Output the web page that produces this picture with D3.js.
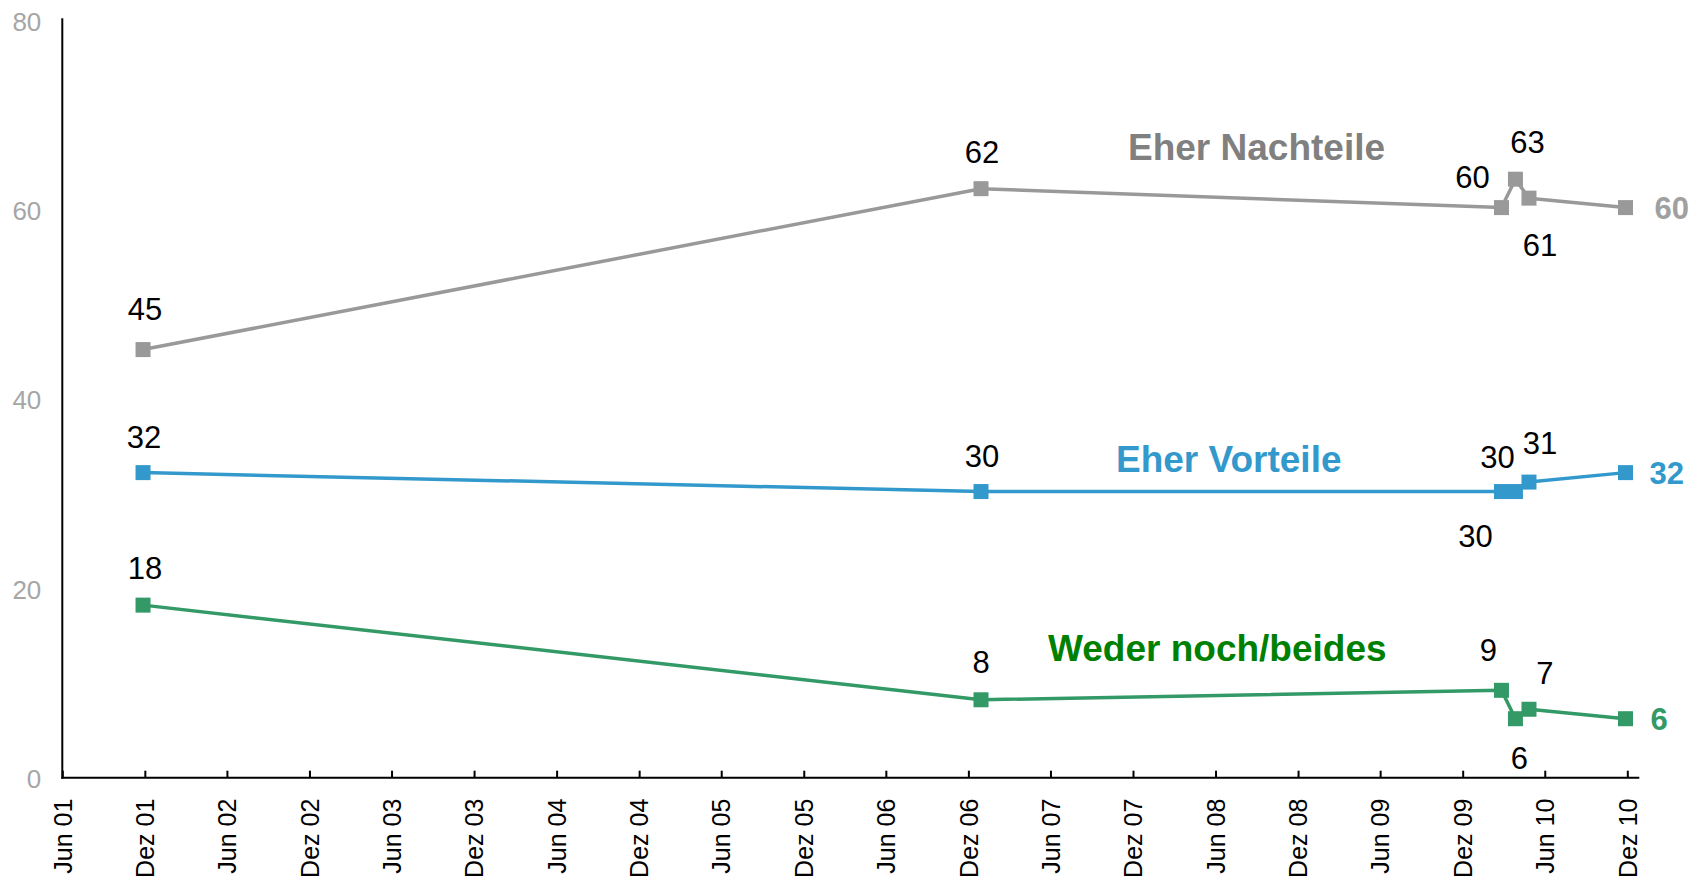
<!DOCTYPE html>
<html>
<head>
<meta charset="utf-8">
<script src="https://cdn.jsdelivr.net/npm/d3@7"></script>
<style>
  body { margin: 0; background: #fff; }
  svg { display: block; }
  text { font-family: "Liberation Sans", Arial, Helvetica, sans-serif; }
</style>
</head>
<body>
<svg id="chart" width="1704" height="878"></svg>
<script>
// ---------------- data ----------------
const surveyDates = ["2001-11-27", "2006-12-29", "2010-02-25", "2010-03-28", "2010-04-27", "2010-11-27"];
const seriesNames = ["Eher Nachteile", "Eher Vorteile", "Weder noch/beides"];
const nachteileValues = [45, 62, 60, 63, 61, 60];
const vorteileValues  = [32, 30, 30, 30, 31, 32];
const wederValues     = [18, 8, 9, 6, 7, 6];
const yTickValues = [0, 20, 40, 60, 80];
const xTickLabels = ["Jun 01", "Dez 01", "Jun 02", "Dez 02", "Jun 03", "Dez 03", "Jun 04", "Dez 04",
                     "Jun 05", "Dez 05", "Jun 06", "Dez 06", "Jun 07", "Dez 07", "Jun 08", "Dez 08",
                     "Jun 09", "Dez 09", "Jun 10", "Dez 10"];

// ---------------- layout / style ----------------
const colors = ["#999999", "#3399cc", "#339966"];
const nameColors = ["#808080", "#3399cc", "#008000"];
const endColors = ["#a0a0a0", "#3399cc", "#339966"];
const endOffsets = [29, 24, 25];
// data label offsets (label centre relative to marker centre), last point uses end label
const labelOffsets = [
  [[2, -41], [1, -37], [-29, -31], [12, -37], [11, 47]],
  [[1, -36], [1, -36], [-4, -35], [-40, 44], [11, -39]],
  [[2, -37], [0, -38], [-13, -40], [4, 39], [16, -36]]
];
const nameLabelPos = [[1128, 65], [1116, 32.1], [1048, 12.1]]; // x px, y in data units (baseline)

const parse = d3.timeParse("%Y-%m-%d");
const svg = d3.select("#chart");

const x = d3.scaleTime()
  .domain([parse("2001-06-01"), parse("2010-12-01")])
  .range([62.3, 1627.3]);
const y = d3.scaleLinear().domain([0, 80]).range([775.5, 18.3]);

const axisY = y(0) + 2.2;
const xTickDates = xTickLabels.map((_, i) => d3.timeMonth.offset(parse("2001-06-01"), 6 * i));

// x axis
const gx = svg.append("g").attr("transform", `translate(0,${axisY})`)
  .call(d3.axisBottom(x).tickValues(xTickDates).tickSize(-7).tickSizeOuter(0)
        .tickFormat((d, i) => xTickLabels[i]));
gx.select(".domain").remove();
gx.selectAll(".tick line").attr("stroke", "#000").attr("stroke-width", 2);
gx.selectAll(".tick text")
  .attr("transform", "rotate(-90)")
  .attr("text-anchor", "end")
  .attr("x", -21).attr("y", 0).attr("dy", "0.35em")
  .attr("fill", "#000")
  .style("font-size", "25px")
  .style("font-family", "'Liberation Sans', Arial, sans-serif");
svg.append("line")
  .attr("x1", x.range()[0] - 1).attr("x2", x.range()[1] + 12)
  .attr("y1", axisY).attr("y2", axisY)
  .attr("stroke", "#000").attr("stroke-width", 2);

// y axis
const gy = svg.append("g").attr("transform", `translate(${x.range()[0]},0)`)
  .call(d3.axisLeft(y).tickValues(yTickValues).tickSize(0).tickPadding(21));
gy.select(".domain").remove();
gy.selectAll(".tick text")
  .attr("fill", "#a6a6a6")
  .attr("y", 2.5)
  .attr("dy", "0.36em")
  .style("font-size", "26px")
  .style("font-family", "'Liberation Sans', Arial, sans-serif");
svg.append("line")
  .attr("x1", x.range()[0]).attr("x2", x.range()[0])
  .attr("y1", axisY + 1).attr("y2", y(80))
  .attr("stroke", "#000").attr("stroke-width", 2);

// series
const allValues = [nachteileValues, vorteileValues, wederValues];
const dates = surveyDates.map(parse);
const line = d3.line().x(d => x(d.date)).y(d => y(d.value));

allValues.forEach((vals, si) => {
  const pts = vals.map((v, i) => ({ date: dates[i], value: v }));
  const g = svg.append("g");
  g.append("path").datum(pts)
    .attr("d", line)
    .attr("fill", "none")
    .attr("stroke", colors[si])
    .attr("stroke-width", 3.5)
    .attr("stroke-linejoin", "round");
  const size = 15;
  g.selectAll("rect").data(pts).join("rect")
    .attr("x", d => x(d.date) - size / 2)
    .attr("y", d => y(d.value) - size / 2)
    .attr("width", size).attr("height", size)
    .attr("fill", colors[si]);
  // data labels (all but the last point)
  g.selectAll("text.dl").data(pts.slice(0, -1)).join("text")
    .attr("class", "dl")
    .attr("x", (d, i) => x(d.date) + labelOffsets[si][i][0])
    .attr("y", (d, i) => y(d.value) + labelOffsets[si][i][1])
    .attr("dy", "0.36em")
    .attr("text-anchor", "middle")
    .attr("fill", "#000")
    .style("font-size", "31px")
    .text(d => d3.format("d")(d.value));
  // end label
  const last = pts[pts.length - 1];
  g.append("text")
    .attr("x", x(last.date) + endOffsets[si])
    .attr("y", y(last.value))
    .attr("dy", "0.36em")
    .attr("fill", endColors[si])
    .style("font-size", "31px")
    .style("font-weight", "bold")
    .text(d3.format("d")(last.value));
  // series name
  g.append("text")
    .attr("x", nameLabelPos[si][0])
    .attr("y", y(nameLabelPos[si][1]))
    .attr("fill", nameColors[si])
    .style("font-size", "37px")
    .style("font-weight", "bold")
    .text(seriesNames[si]);
});
</script>
</body>
</html>
